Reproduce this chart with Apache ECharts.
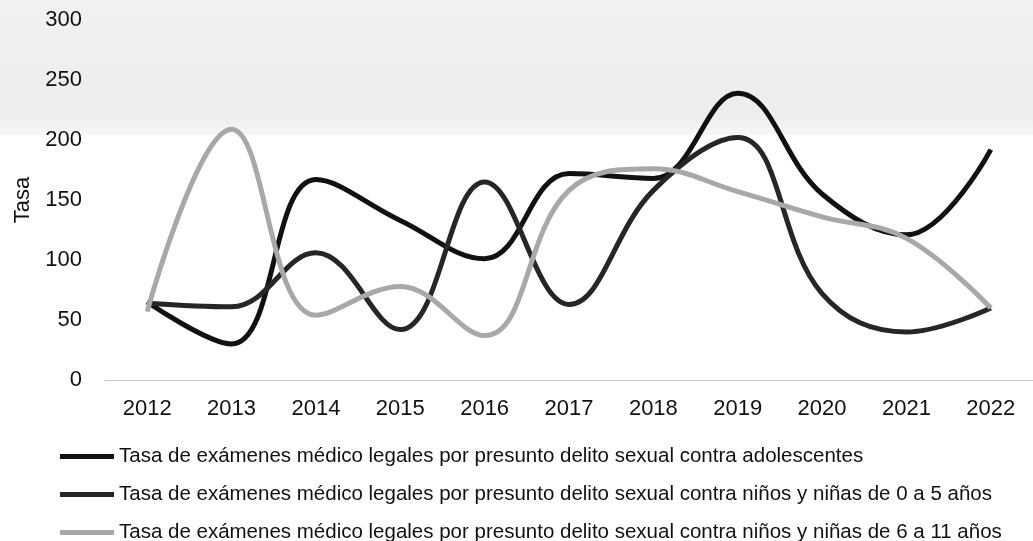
<!DOCTYPE html>
<html>
<head>
<meta charset="utf-8">
<script src="https://cdn.jsdelivr.net/npm/echarts@6/dist/echarts.min.js"></script>
<style>html,body{margin:0;padding:0;background:#fff;}#c{width:1033px;height:541px;}</style>
</head>
<body>
<div id="c"></div>
<script>
const years = ['2012','2013','2014','2015','2016','2017','2018','2019','2020','2021','2022'];
const adolescentes = [65, 30, 167, 133, 101, 172, 168, 239, 155, 121, 192];
const ninos0a5 = [64, 61, 106, 42, 165, 63, 158, 202, 72, 40, 60];
const ninos6a11 = [57, 209, 54, 78, 37, 158, 176, 157, 136, 118, 60];
const names = [
  'Tasa de exámenes médico legales por presunto delito sexual contra adolescentes',
  'Tasa de exámenes médico legales por presunto delito sexual contra niños y niñas de 0 a 5 años',
  'Tasa de exámenes médico legales por presunto delito sexual contra niños y niñas de 6 a 11 años'
];
const yTicks = [0, 50, 100, 150, 200, 250, 300];

const chart = echarts.init(document.getElementById('c'), null, {renderer: 'canvas'});
const font = 'Liberation Sans, Arial, sans-serif';
function mk(name, data, color, w) {
  return {
    name: name, type: 'line', data: data, smooth: 0.4, symbol: 'none',
    lineStyle: {color: color, width: w}, itemStyle: {color: color}
  };
}
chart.setOption({
  animation: false,
  backgroundColor: '#fff',
  graphic: [{
    type: 'rect', z: -10, silent: true,
    shape: {x: 0, y: 0, width: 1033, height: 135},
    style: {fill: new echarts.graphic.LinearGradient(0, 0, 0, 1, [
      {offset: 0, color: '#f1f1f1'}, {offset: 0.85, color: '#ededed'}, {offset: 1, color: '#f7f7f7'}])}
  }],
  grid: {left: 105, right: -9, top: 20, bottom: 161, containLabel: false},
  xAxis: {
    type: 'category', data: years, boundaryGap: true,
    axisLine: {show: true, lineStyle: {color: '#c4c4c4', width: 1}},
    axisTick: {show: false},
    axisLabel: {color: '#111', fontSize: 22, fontFamily: font, margin: 18}
  },
  yAxis: {
    type: 'value', min: 0, max: 300, interval: 50,
    name: 'Tasa', nameLocation: 'middle', nameGap: 71, nameRotate: 90,
    nameTextStyle: {color: '#111', fontSize: 22, fontFamily: font},
    axisLine: {show: false}, axisTick: {show: false}, splitLine: {show: false},
    axisLabel: {color: '#111', fontSize: 22, fontFamily: font, margin: 23,
      formatter: v => yTicks.includes(v) ? String(v) : ''}
  },
  legend: {
    orient: 'vertical', left: 60, top: 446, height: 120, padding: 0,
    itemWidth: 54, itemHeight: 5, itemGap: 17,
    icon: 'rect',
    textStyle: {color: '#111', fontSize: 20.5, fontFamily: font},
    data: names
  },
  series: [
    mk(names[0], adolescentes, '#111111', 5),
    mk(names[1], ninos0a5, '#262626', 5),
    mk(names[2], ninos6a11, '#a8a8a8', 5)
  ]
});
</script>
</body>
</html>
